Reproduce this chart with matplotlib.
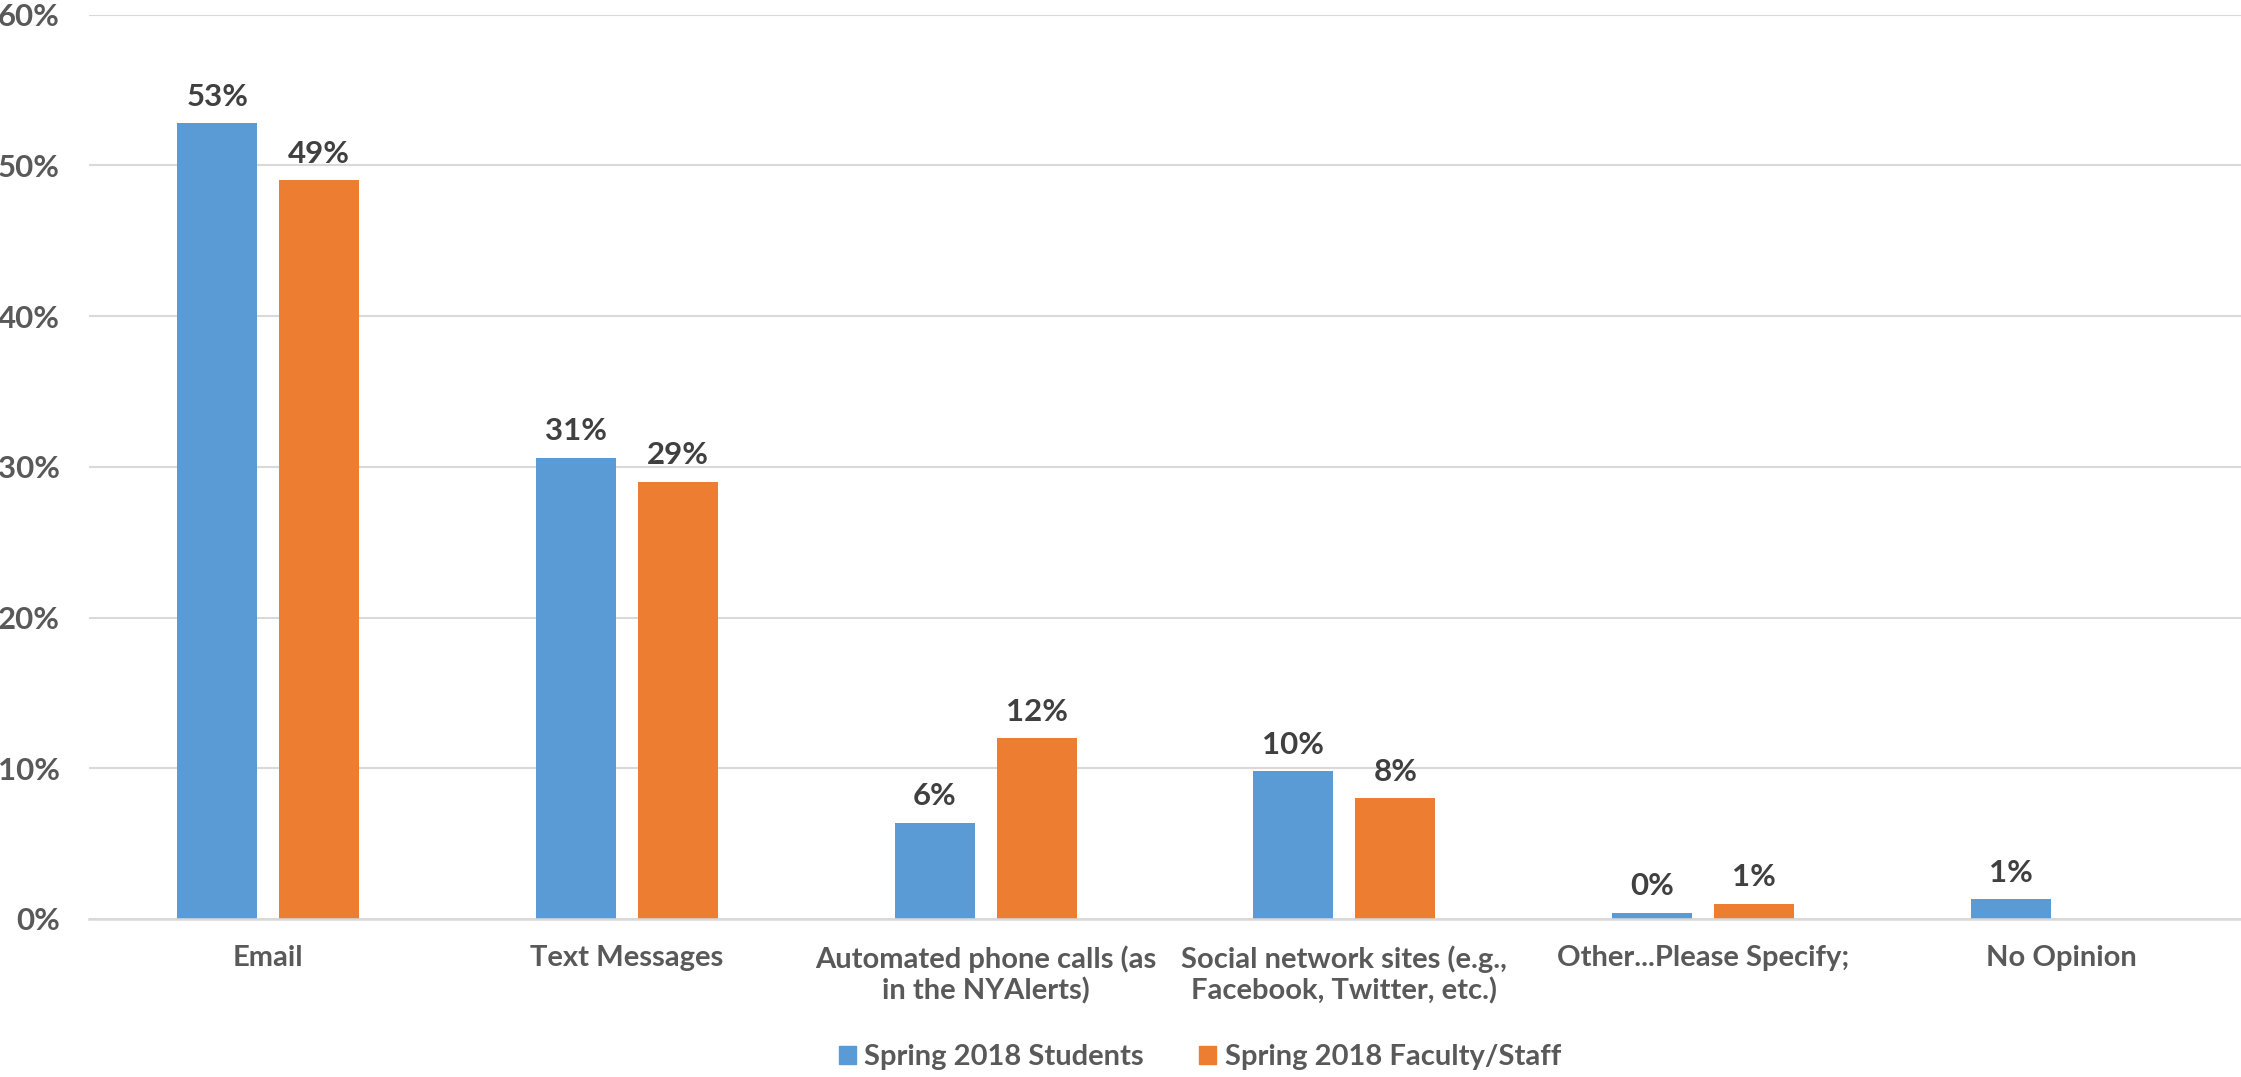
import numpy as np
import matplotlib
matplotlib.use("Agg")
import matplotlib.pyplot as plt
from matplotlib.patches import Patch

categories = ["Email", "Text Messages", "Automated phone calls (as\nin the NYAlerts)",
              "Social network sites (e.g.,\nFacebook, Twitter, etc.)",
              "Other...Please Specify;", "No Opinion"]
students = [52.8, 30.6, 6.4, 9.8, 0.4, 1.3]
faculty = [49.0, 29.0, 12.0, 8.0, 1.0, np.nan]
series_names = ["Spring 2018 Students", "Spring 2018 Faculty/Staff"]
yticks = [0, 10, 20, 30, 40, 50, 60]

plt.rcParams['font.family'] = ['Lato', 'DejaVu Sans']
plt.rcParams['font.weight'] = 'bold'

BLUE = "#5B9BD5"
ORANGE = "#ED7D31"
TICK = "#595959"
LABEL = "#404040"
GRID = "#D9D9D9"
FS_NUM = 22.5
FS_TXT = 21

fig = plt.figure(figsize=(22.41, 10.77), dpi=100)
ax = fig.add_axes([89/2241, 1 - 919/1077, 1 - 89/2241, (919 - 14.5)/1077])

x = np.arange(len(categories))
w = 0.223
off = 0.142
b1 = ax.bar(x - off, students, w, color=BLUE, zorder=3)
b2 = ax.bar(x + off, faculty, w, color=ORANGE, zorder=3)

for bars, vals in ((b1, students), (b2, faculty)):
    for rect, v in zip(bars, vals):
        if np.isnan(v):
            continue
        ax.annotate(f"{v:.0f}%", (rect.get_x() + rect.get_width()/2, v),
                    xytext=(0, 9), textcoords="offset points",
                    ha="center", va="bottom", fontsize=FS_NUM, fontweight="bold",
                    color=LABEL)

ax.set_xlim(-0.5, len(categories) - 0.5)
ax.set_ylim(0, 60)
ax.set_yticks(yticks)
ax.set_yticklabels([f"{t}%" for t in yticks])
ax.set_xticks(x)
ax.set_xticklabels(categories, linespacing=1.2)
ax.tick_params(axis="y", length=0, pad=21, labelsize=FS_NUM, labelcolor=TICK)
ax.tick_params(axis="x", length=0, pad=19, labelsize=FS_TXT, labelcolor=TICK)
for lab in ax.get_xticklabels() + ax.get_yticklabels():
    lab.set_fontweight("bold")
ax.yaxis.grid(True, color=GRID, linewidth=1.5, zorder=0)
for s in ["top", "right", "left"]:
    ax.spines[s].set_visible(False)
ax.spines["bottom"].set_color(GRID)
ax.spines["bottom"].set_linewidth(1.8)
ax.spines["bottom"].set_zorder(4)

handles = [Patch(color=BLUE), Patch(color=ORANGE)]
fig.legend(handles, series_names, loc="center", bbox_to_anchor=(1200/2241, 1 - 1057/1077),
           ncol=2, frameon=False, labelcolor=TICK,
           handlelength=0.58, handleheight=0.58, handletextpad=0.3, columnspacing=1.9,
           borderpad=0, prop={"weight": "bold", "size": FS_TXT})

fig.savefig("out.png", dpi=100)
